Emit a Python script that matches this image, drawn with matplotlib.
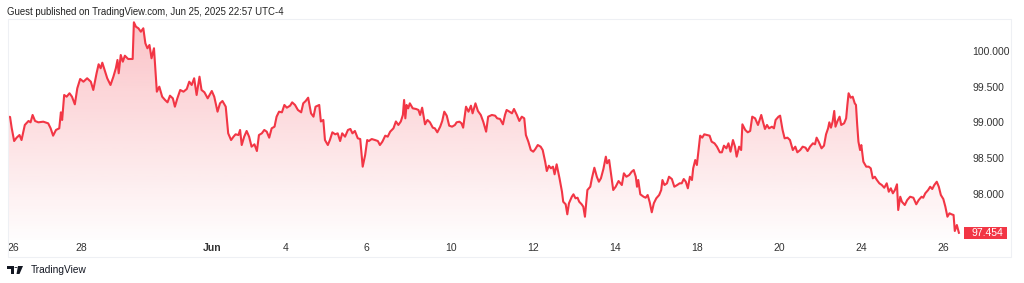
import matplotlib.pyplot as plt
import matplotlib.transforms as mtransforms
import numpy as np
from matplotlib.patches import Polygon, Rectangle, Circle

# DXY trace: t = trading-day position, price
t = [0.00, 0.05, 0.09, 0.15, 0.21, 0.28, 0.33, 0.41, 0.50, 0.55, 0.60, 0.66, 0.74, 0.86, 0.98,
     1.04, 1.10, 1.17, 1.25, 1.29, 1.32, 1.37, 1.43, 1.50, 1.56, 1.63, 1.69, 1.76, 1.84, 1.93,
     2.02, 2.08, 2.16, 2.21, 2.26, 2.30, 2.37, 2.42, 2.50, 2.57, 2.63, 2.67, 2.70, 2.75, 2.80,
     2.85, 2.93, 3.04, 3.07, 3.12, 3.18, 3.24, 3.30, 3.35, 3.40, 3.45, 3.50, 3.56, 3.63, 3.69,
     3.76, 3.83, 3.89, 3.95, 4.02, 4.07, 4.13, 4.20, 4.28, 4.36, 4.42, 4.48, 4.54, 4.60, 4.67,
     4.72, 4.79, 4.87, 4.97, 5.03, 5.11, 5.17, 5.23, 5.31, 5.37, 5.44, 5.50, 5.55, 5.62, 5.66,
     5.70, 5.76, 5.82, 5.88, 5.94, 6.01, 6.07, 6.12, 6.19, 6.25, 6.31, 6.37, 6.43, 6.50, 6.55,
     6.61, 6.68, 6.74, 6.80, 6.88, 6.93, 7.00, 7.07, 7.15, 7.20, 7.26, 7.32, 7.39, 7.45, 7.50,
     7.59, 7.63, 7.69, 7.73, 7.80, 7.85, 7.91, 7.98, 8.04, 8.10, 8.15, 8.22, 8.29, 8.35, 8.40,
     8.46, 8.53, 8.59, 8.65, 8.71, 8.76, 8.80, 8.87, 8.95, 9.02, 9.07, 9.13, 9.20, 9.26, 9.32,
     9.40, 9.46, 9.52, 9.58, 9.63, 9.66, 9.69, 9.72, 9.76, 9.80, 9.87, 9.95, 10.01, 10.05, 10.10,
     10.17, 10.23, 10.29, 10.36, 10.41, 10.47, 10.54, 10.59, 10.64, 10.70, 10.76, 10.83, 10.90,
     10.94, 11.01, 11.06, 11.10, 11.17, 11.23, 11.29, 11.33, 11.40, 11.46, 11.53, 11.59, 11.66,
     11.71, 11.80, 11.88, 11.93, 12.00, 12.07, 12.12, 12.16, 12.23, 12.29, 12.34, 12.41, 12.47,
     12.53, 12.59, 12.63, 12.69, 12.75, 12.81, 12.86, 12.92, 12.99, 13.04, 13.10, 13.14, 13.19,
     13.24, 13.29, 13.33, 13.38, 13.45, 13.51, 13.54, 13.60, 13.64, 13.68, 13.75, 13.79, 13.84,
     13.89, 13.93, 13.99, 14.03, 14.07, 14.13, 14.20, 14.24, 14.30, 14.36, 14.41, 14.46, 14.52,
     14.58, 14.61, 14.66, 14.71, 14.76, 14.82, 14.89, 14.97, 15.02, 15.08, 15.15, 15.21, 15.26,
     15.31, 15.34, 15.37, 15.42, 15.50, 15.55, 15.60, 15.65, 15.70, 15.75, 15.81, 15.88, 15.93,
     15.96, 16.01, 16.07, 16.12, 16.19, 16.25, 16.32, 16.38, 16.43, 16.48, 16.53, 16.58, 16.63,
     16.68, 16.71, 16.76, 16.80, 16.84, 16.88, 16.93, 16.98, 17.05, 17.11, 17.16, 17.23, 17.29,
     17.36, 17.41, 17.46, 17.52, 17.57, 17.62, 17.68, 17.73, 17.77, 17.83, 17.88, 17.91, 17.98,
     18.04, 18.10, 18.15, 18.22, 18.29, 18.37, 18.41, 18.46, 18.51, 18.56, 18.63, 18.68, 18.72,
     18.79, 18.83, 18.89, 18.94, 19.01, 19.07, 19.14, 19.20, 19.25, 19.32, 19.38, 19.45, 19.50,
     19.56, 19.63, 19.68, 19.72, 19.77, 19.84, 19.90, 19.95, 20.00, 20.03, 20.07, 20.11, 20.15,
     20.18, 20.23, 20.28, 20.32, 20.39, 20.44, 20.47, 20.50, 20.55, 20.60, 20.65, 20.68, 20.71,
     20.74, 20.78, 20.81, 20.86, 20.93, 20.99, 21.04, 21.09, 21.14, 21.19, 21.25, 21.31, 21.37,
     21.43, 21.48, 21.53, 21.58, 21.63, 21.68, 21.71, 21.76, 21.80, 21.87, 21.93, 22.00, 22.08,
     22.15, 22.21, 22.28, 22.32, 22.37, 22.44, 22.49, 22.54, 22.59, 22.65, 22.70, 22.75, 22.81,
     22.86, 22.91, 22.96, 23.01, 23.06, 23.09, 23.14, 23.19]

price = [99.080, 99.076, 98.922, 98.739, 98.786, 98.823, 98.753, 98.964, 99.020, 99.001, 99.104,
         99.020, 99.001, 99.010, 98.987, 98.917, 98.814, 98.894, 98.917, 99.141, 99.034, 99.384,
         99.360, 99.408, 99.360, 99.253, 99.478, 99.608, 99.570, 99.618, 99.570, 99.454, 99.688,
         99.814, 99.758, 99.836, 99.710, 99.618, 99.524, 99.640, 99.758, 99.874, 99.688, 99.944,
         99.850, 99.934, 99.888, 99.888, 100.402, 100.340, 100.318, 100.270, 100.318, 100.108,
         100.038, 100.084, 99.898, 100.038, 99.430, 99.500, 99.360, 99.314, 99.281, 99.374, 99.337,
         99.220, 99.337, 99.454, 99.430, 99.468, 99.570, 99.524, 99.618, 99.384, 99.640, 99.454,
         99.422, 99.337, 99.440, 99.360, 99.150, 99.267, 99.300, 99.220, 98.847, 98.753, 98.800,
         98.833, 98.823, 98.894, 98.683, 98.800, 98.880, 98.800, 98.660, 98.693, 98.599, 98.823,
         98.847, 98.894, 98.870, 98.786, 98.917, 98.940, 99.080, 99.150, 99.141, 99.244, 99.206,
         99.234, 99.281, 99.244, 99.174, 99.141, 99.267, 99.300, 99.346, 99.127, 99.080, 99.220,
         99.244, 99.013, 99.034, 98.753, 98.683, 98.753, 98.861, 98.833, 98.847, 98.739, 98.847,
         98.800, 98.894, 98.908, 98.847, 98.880, 98.777, 98.767, 98.380, 98.543, 98.753, 98.739,
         98.767, 98.753, 98.739, 98.683, 98.730, 98.814, 98.800, 98.870, 98.917, 99.013, 98.964,
         99.013, 99.104, 99.314, 99.057, 99.244, 99.197, 99.267, 99.197, 99.188, 99.174, 99.104,
         99.206, 98.973, 99.034, 99.001, 98.926, 98.917, 98.861, 98.940, 99.020, 99.150, 99.094,
         98.954, 98.940, 98.964, 99.001, 99.010, 98.987, 98.926, 99.220, 99.150, 99.234, 99.127,
         99.267, 99.160, 99.104, 99.010, 98.870, 99.080, 99.104, 99.094, 99.057, 99.048, 98.973,
         99.104, 99.174, 99.150, 99.127, 99.188, 99.104, 99.020, 99.080, 99.057, 98.823, 98.730,
         98.613, 98.590, 98.627, 98.683, 98.660, 98.613, 98.450, 98.319, 98.393, 98.357, 98.380,
         98.273, 98.413, 98.217, 98.029, 97.889, 97.853, 97.713, 97.867, 97.959, 97.993, 97.937,
         97.945, 97.889, 97.853, 97.819, 97.679, 98.053, 98.099, 98.217, 98.365, 98.239, 98.169,
         98.217, 98.347, 98.520, 98.427, 98.473, 98.263, 98.053, 98.099, 98.179, 98.123, 98.287,
         98.239, 98.263, 98.309, 98.333, 98.239, 98.099, 98.193, 97.993, 97.959, 97.945, 97.983,
         97.881, 97.741, 97.867, 97.937, 97.983, 98.053, 98.193, 98.123, 98.147, 98.239, 98.207,
         98.099, 98.123, 98.147, 98.147, 98.207, 98.169, 98.077, 98.239, 98.193, 98.357, 98.473,
         98.403, 98.613, 98.814, 98.786, 98.833, 98.823, 98.814, 98.730, 98.707, 98.660, 98.581,
         98.581, 98.674, 98.637, 98.707, 98.590, 98.753, 98.660, 98.520, 98.660, 98.613, 98.973,
         98.894, 98.861, 98.880, 99.080, 99.057, 98.964, 99.104, 99.013, 98.908, 98.964, 98.917,
         98.940, 98.917, 99.034, 99.080, 99.094, 98.894, 98.777, 98.786, 98.753, 98.613, 98.660,
         98.581, 98.613, 98.660, 98.646, 98.599, 98.660, 98.707, 98.693, 98.786, 98.730, 98.637,
         98.674, 98.833, 98.917, 99.001, 98.926, 99.010, 99.160, 98.940, 99.020, 99.080, 98.964,
         98.987, 99.057, 99.244, 99.408, 99.346, 99.360, 99.267, 99.244, 98.964, 98.730, 98.613,
         98.683, 98.450, 98.380, 98.380, 98.357, 98.217, 98.239, 98.193, 98.147, 98.123, 98.085,
         98.147, 98.029, 98.077, 98.007, 98.053, 98.133, 97.773, 97.959, 97.889, 97.843, 97.913,
         97.959, 97.945, 97.853, 97.913, 97.959, 97.945, 98.007, 98.053, 98.099, 98.067, 98.123,
         98.169, 98.099, 97.983, 97.927, 97.819, 97.679, 97.727, 97.713, 97.703, 97.479, 97.563,
         97.454]

tick_pos = [0.13, 1.78, 4.98, 6.77, 8.75, 10.80, 12.80, 14.80, 16.80, 18.80, 20.80, 22.80]
tick_labels = ['26', '28', 'Jun', '4', '6', '10', '12', '14', '18', '20', '24', '26']
price_ticks = [98.0, 98.5, 99.0, 99.5, 100.0]

t = np.array(t)
price = np.array(price)
RED = '#F23645'
W, H = 1024, 283


def px(x, y):
    # pixel position (from top-left) -> figure fraction
    return (x / W, 1 - y / H)


plt.rcParams['font.family'] = ['Liberation Sans', 'DejaVu Sans']
fig = plt.figure(figsize=(W / 100, H / 100), dpi=100)
fig.patch.set_facecolor('white')

# panel frame
fig.add_artist(Rectangle(px(8, 257), (1011 - 8) / W, (257 - 19) / H,
                         transform=fig.transFigure, fill=False, ec='#eef0f4', lw=0.8))

ax = fig.add_axes([8 / W, 1 - 240 / H, (963 - 8) / W, (240 - 19) / H])
ymin, ymax = 97.353, 100.448
ax.set_xlim(0, 23.29)
ax.set_ylim(ymin, ymax)

# gradient fill under the line
top = price.max()
rgba = np.zeros((256, 1, 4))
rgba[..., 0], rgba[..., 1], rgba[..., 2] = 242 / 255, 54 / 255, 69 / 255
rgba[..., 3] = np.linspace(0.30, 0.01, 256).reshape(-1, 1)
img = ax.imshow(rgba, extent=[0, 23.29, ymin, top], aspect='auto', origin='upper', zorder=1)
poly = Polygon(np.column_stack([np.r_[t[0], t, t[-1]], np.r_[ymin, price, ymin]]),
               closed=True, fc='none', ec='none')
ax.add_patch(poly)
img.set_clip_path(poly)
ax.plot(t, price, color=RED, lw=1.5, zorder=3, solid_joinstyle='round')

for s in ax.spines.values():
    s.set_visible(False)
ax.yaxis.tick_right()
ax.set_yticks(price_ticks)
ax.set_yticklabels([f'{v:.3f}' for v in price_ticks])
ax.tick_params(axis='y', length=0, pad=6.5, labelsize=7.5, labelcolor='#333333')
ax.set_xticks(tick_pos)
ax.set_xticklabels(tick_labels)
ax.tick_params(axis='x', length=0, pad=2.5, labelsize=7.5, labelcolor='#333333')
for lab in ax.get_xticklabels():
    if lab.get_text() == 'Jun':
        lab.set_fontweight('bold')

# last price tag: box in figure x, data y
last = price[-1]
tag = mtransforms.blended_transform_factory(fig.transFigure, ax.transData)
box_h = 12 * (ymax - ymin) / (240 - 19)
ax.add_artist(Rectangle((964 / W, last - box_h / 2), 43 / W, box_h, transform=tag,
                        fc=RED, ec='none', clip_on=False, zorder=5))
ax.text(972 / W, last, f'{last:.3f}', transform=tag, ha='left', va='center',
        fontsize=7.5, color='white', zorder=6, clip_on=False)

fig.text(*px(7, 12), 'Guest published on TradingView.com, Jun 25, 2025 22:57 UTC-4',
         fontsize=6.9, color='#222222', va='center', ha='left')

# TradingView logo + wordmark
logo = '#131722'
fig.add_artist(Polygon([px(7, 266), px(14, 266), px(14, 274), px(11, 274), px(11, 269), px(7, 269)],
                       closed=True, fc=logo, ec='none', transform=fig.transFigure))
fig.add_artist(Circle(px(16, 267.5), 1.6 / W, fc=logo, ec='none', transform=fig.transFigure))
fig.add_artist(Polygon([px(18, 266), px(23, 266), px(19.5, 274), px(16.5, 274)],
                       closed=True, fc=logo, ec='none', transform=fig.transFigure))
fig.text(*px(31, 270), 'TradingView', fontsize=7.3, color=logo, va='center', ha='left')

fig.savefig('out.png', dpi=100, facecolor='white')
